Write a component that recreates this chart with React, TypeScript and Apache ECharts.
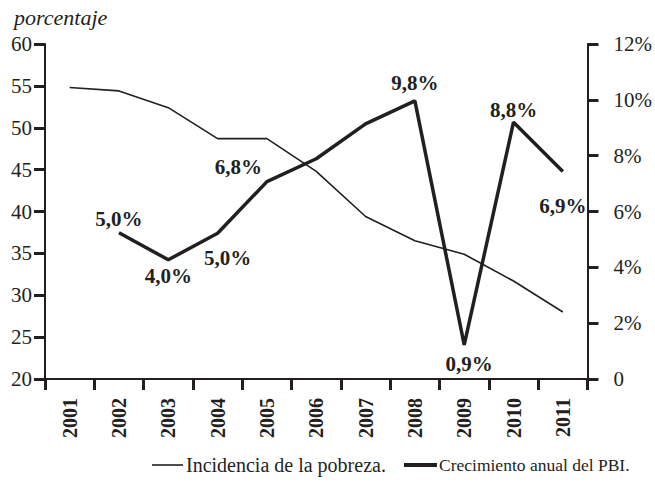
import React, { useEffect, useRef } from "react";
import * as echarts from "echarts";

const years = ["2001", "2002", "2003", "2004", "2005", "2006", "2007", "2008", "2009", "2010", "2011"];
const poverty = [54.8, 54.4, 52.4, 48.7, 48.7, 44.8, 39.4, 36.5, 34.9, 31.7, 28.0];
const gdpGrowth: (number | null)[] = [null, 5.24, 4.27, 5.22, 7.07, 7.89, 9.14, 9.96, 1.22, 9.2, 7.43];
const gdpLabels = ["", "5,0%", "4,0%", "5,0%", "6,8%", "", "", "9,8%", "0,9%", "8,8%", "6,9%"];
const leftTicks = [20, 25, 30, 35, 40, 45, 50, 55, 60];
const rightTicks = [0, 2, 4, 6, 8, 10, 12];
const seriesNames = ["Incidencia de la pobreza.", "Crecimiento anual del PBI."];
const yUnit = "porcentaje";

const INK = "#231f20";
const SERIF = "'Liberation Serif', 'DejaVu Serif', serif";

const labelPlacement: Record<number, { position: string; offset: number[] }> = {
  1: { position: "top", offset: [0, 2] },
  2: { position: "bottom", offset: [0, 1] },
  3: { position: "bottom", offset: [10, 9] },
  4: { position: "left", offset: [0, -15] },
  7: { position: "top", offset: [0, -2] },
  8: { position: "bottom", offset: [5, 4] },
  9: { position: "top", offset: [0, 3] },
  10: { position: "bottom", offset: [0, 19] },
};

export default function App() {
  const ref = useRef<HTMLDivElement>(null);
  useEffect(() => {
    if (!ref.current) return;
    const chart = echarts.init(ref.current, null, { renderer: "svg" });
    const gdpData = gdpGrowth.map((v, i) => {
      if (v === null) return "-";
      const p = labelPlacement[i];
      return {
        value: v,
        label: p
          ? {
              show: true,
              position: p.position,
              offset: p.offset,
              formatter: () => gdpLabels[i],
            }
          : { show: false },
      };
    });
    const axisLineStyle = { color: INK, width: 2 };
    const tickStyle = { color: INK, width: 3 };
    chart.setOption({
      animation: false,
      backgroundColor: "#ffffff",
      textStyle: { fontFamily: SERIF },
      title: {
        text: yUnit,
        left: 9,
        top: 1,
        textStyle: {
          fontFamily: SERIF,
          fontStyle: "italic",
          fontWeight: "normal",
          fontSize: 22,
          color: INK,
        },
      },
      grid: { left: 45, right: 64, top: 44, bottom: 105 },
      legend: [
        {
          left: 147,
          top: 450,
          itemWidth: 31,
          itemHeight: 1.6,
          icon: "rect",
          textStyle: { fontFamily: SERIF, fontSize: 20, color: INK, padding: [0, 0, 0, -2] },
          data: [{ name: seriesNames[0], icon: "rect" }],
        },
        {
          left: 399,
          top: 451,
          itemWidth: 33,
          itemHeight: 4,
          icon: "rect",
          textStyle: { fontFamily: SERIF, fontSize: 17.5, color: INK, padding: [0, 0, 0, -3] },
          data: [{ name: seriesNames[1], icon: "rect" }],
        },
      ],
      xAxis: {
        type: "category",
        data: years,
        boundaryGap: true,
        axisLine: { lineStyle: axisLineStyle },
        axisTick: { show: true, length: 11, lineStyle: tickStyle, alignWithLabel: false },
        axisLabel: {
          rotate: 90,
          margin: 19,
          interval: 0,
          fontFamily: SERIF,
          fontWeight: "bold",
          fontSize: 20,
          color: INK,
        },
      },
      yAxis: [
        {
          type: "value",
          min: 20,
          max: 60,
          interval: 5,
          position: "left",
          axisLine: { show: true, lineStyle: axisLineStyle },
          axisTick: { show: true, length: 11, lineStyle: tickStyle },
          splitLine: { show: false },
          axisLabel: {
            margin: 13,
            fontFamily: SERIF,
            fontSize: 21,
            color: INK,
            formatter: (v: number) => (leftTicks.includes(v) ? String(v) : ""),
          },
        },
        {
          type: "value",
          min: 0,
          max: 12,
          interval: 2,
          position: "right",
          axisLine: { show: true, lineStyle: axisLineStyle },
          axisTick: { show: true, length: 11, lineStyle: tickStyle },
          splitLine: { show: false },
          axisLabel: {
            margin: 26,
            fontFamily: SERIF,
            fontSize: 21,
            color: INK,
            formatter: (v: number) => (rightTicks.includes(v) ? (v === 0 ? "0" : v + "%") : ""),
          },
        },
      ],
      series: [
        {
          name: seriesNames[0],
          type: "line",
          yAxisIndex: 0,
          data: poverty,
          symbol: "none",
          lineStyle: { color: INK, width: 1.6 },
          itemStyle: { color: INK },
        },
        {
          name: seriesNames[1],
          type: "line",
          yAxisIndex: 1,
          data: gdpData,
          symbol: "circle",
          symbolSize: 0.01,
          showSymbol: true,
          connectNulls: false,
          lineStyle: { color: INK, width: 3.5 },
          itemStyle: { color: INK },
          label: {
            fontFamily: SERIF,
            fontWeight: "bold",
            fontSize: 21,
            color: INK,
          },
        },
      ],
    });
    return () => chart.dispose();
  }, []);
  return <div ref={ref} style={{ width: 655, height: 484, position: "absolute", left: 0, top: 0 }} />;
}
